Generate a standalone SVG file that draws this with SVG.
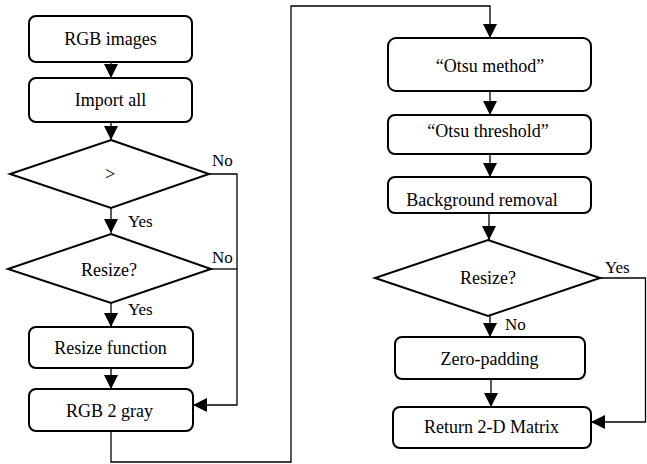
<svg xmlns="http://www.w3.org/2000/svg" width="647" height="464" viewBox="0 0 647 464">
<style>
.box{fill:#fff;stroke:#000;stroke-width:2}
.t{font-family:'Liberation Serif','Times New Roman',serif;font-size:18px;fill:#000;text-anchor:middle}
.l{font-family:'Liberation Serif','Times New Roman',serif;font-size:17px;fill:#000}
.c{fill:none;stroke:#000;stroke-width:1.3}
</style>
<defs>
<marker id="ah" markerUnits="userSpaceOnUse" markerWidth="14" markerHeight="14" refX="14" refY="7" orient="auto">
<path d="M0,0 L14,7 L0,14 z" fill="#000"/>
</marker>
</defs>
<rect width="647" height="464" fill="#fff"/>
<g id="connectors">
<path class="c" d="M111,62 V78" marker-end="url(#ah)"/>
<path class="c" d="M111,122 V140" marker-end="url(#ah)"/>
<path class="c" d="M111,208 V233" marker-end="url(#ah)"/>
<path class="c" d="M111,303 V327" marker-end="url(#ah)"/>
<path class="c" d="M111,368 V389" marker-end="url(#ah)"/>
<path class="c" d="M209,174 H237 V405 H193" marker-end="url(#ah)"/>
<path class="c" d="M211,269 H237"/>
<path class="c" d="M111,431 V462 H291 V6 H490 V38" marker-end="url(#ah)"/>
<path class="c" d="M490,91 V115" marker-end="url(#ah)"/>
<path class="c" d="M490,154 V177" marker-end="url(#ah)"/>
<path class="c" d="M489,213 V240" marker-end="url(#ah)"/>
<path class="c" d="M490,316 V337" marker-end="url(#ah)"/>
<path class="c" d="M491,379 V407" marker-end="url(#ah)"/>
<path class="c" d="M600,278 H645.5 V422 H591" marker-end="url(#ah)"/>
<text class="l" x="212" y="166">No</text>
<text class="l" x="128" y="227">Yes</text>
<text class="l" x="212" y="263">No</text>
<text class="l" x="128" y="315">Yes</text>
<text class="l" x="605" y="273">Yes</text>
<text class="l" x="505" y="330">No</text>
</g>
<g id="rgb-images">
<rect class="box" x="29" y="16" width="163" height="46" rx="7"/>
<text class="t" x="110.5" y="45">RGB images</text>
</g>
<g id="import-all">
<rect class="box" x="29" y="78" width="163" height="44" rx="7"/>
<text class="t" x="110.5" y="106">Import all</text>
</g>
<g id="decision-gt">
<path class="box" d="M111,140 L209,174 L111,208 L10,174 Z"/>
<text class="t" x="110" y="180">&gt;</text>
</g>
<g id="decision-resize-1">
<path class="box" d="M111,234 L211,269 L111,303 L8,269 Z"/>
<text class="t" x="109" y="276">Resize?</text>
</g>
<g id="resize-function">
<rect class="box" x="29" y="327" width="164" height="41" rx="7"/>
<text class="t" x="110.5" y="354">Resize function</text>
</g>
<g id="rgb-2-gray">
<rect class="box" x="29" y="389" width="164" height="42" rx="7"/>
<text class="t" x="109.5" y="417">RGB 2 gray</text>
</g>
<g id="otsu-method">
<rect class="box" x="388" y="38" width="203" height="53" rx="8"/>
<text class="t" x="490" y="72">“Otsu method”</text>
</g>
<g id="otsu-threshold">
<rect class="box" x="388" y="115" width="203" height="39" rx="7"/>
<text class="t" x="488" y="137">“Otsu threshold”</text>
</g>
<g id="background-removal">
<rect class="box" x="388" y="177" width="203" height="36" rx="7"/>
<text class="t" x="482" y="206">Background removal</text>
</g>
<g id="decision-resize-2">
<path class="box" d="M488,240 L600,278 L488,316 L375,278 Z"/>
<text class="t" x="488" y="284">Resize?</text>
</g>
<g id="zero-padding">
<rect class="box" x="395" y="337" width="190" height="42" rx="7"/>
<text class="t" x="489.5" y="365">Zero-padding</text>
</g>
<g id="return-matrix">
<rect class="box" x="393" y="407" width="198" height="41" rx="7"/>
<text class="t" x="491.5" y="433">Return 2-D Matrix</text>
</g>
</svg>
